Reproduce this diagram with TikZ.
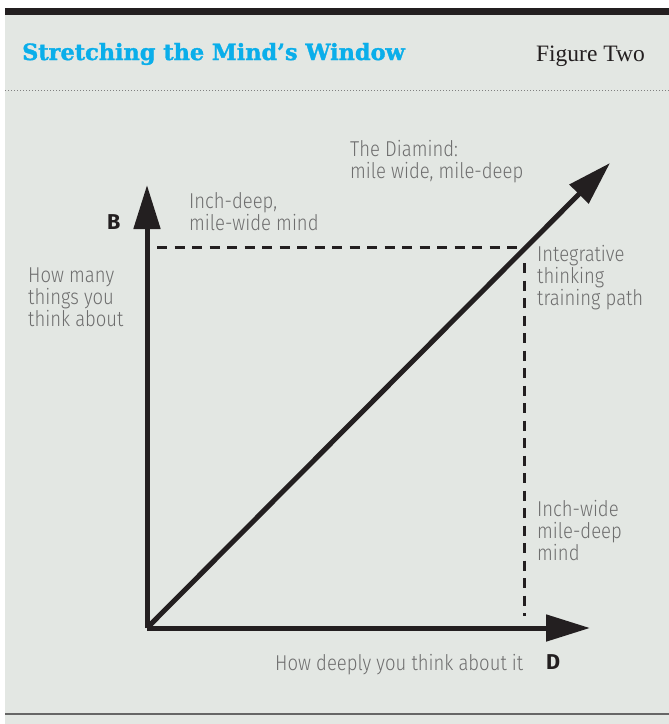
\documentclass[tikz,border=0pt]{standalone}
\usepackage{fontspec}
\setmainfont{Liberation Serif}
\newfontfamily\lblfont{Fira Sans Light}[FakeStretch=0.86]
\newfontfamily\axfont{Fira Sans}[UprightFont=* Bold]
\newfontfamily\ttlfont{DejaVu Serif}[UprightFont=* Bold, FakeBold=1.5]
\usetikzlibrary{arrows.meta, positioning}
\definecolor{cbg}{HTML}{E3E7E3}
\definecolor{cblue}{HTML}{0AAEEA}
\definecolor{cgrey}{HTML}{6E6E6E}
\definecolor{cink}{HTML}{231F20}
\tikzset{
  every picture/.style={x=1pt, y=-1pt},
  axis/.style={draw=cink, line width=5pt, -{Triangle[length=44pt, width=26pt]}},
  guide/.style={draw=cink, line width=3pt, dash pattern=on 10pt off 7.5pt},
  lbl/.style={font=\lblfont\fontsize{21.5}{22}\selectfont, text=cgrey, align=left, inner sep=0pt, anchor=base west},
  axlbl/.style={font=\axfont\fontsize{21.5}{22}\selectfont, text=cink, inner sep=0pt, anchor=base west},
}
\begin{document}
\begin{tikzpicture}
  \useasboundingbox (0,0) rectangle (669,724);
  \fill[white] (0,0) rectangle (669,724);
  \fill[cbg] (5,8) rectangle (669,724);
  \fill[cink] (5,8) rectangle (669,15);
  \draw[gray, line width=1pt, dotted] (5,90) -- (669,90);
  \draw[gray!80!black, line width=2pt] (5,714) -- (669,714);
  % header
  \node[font=\ttlfont\fontsize{22.4}{24}\selectfont, text=cblue, inner sep=0pt, anchor=base west] (title) at (22,60) {Stretching the Mind’s Window};
  \node[font=\fontsize{23.5}{24}\selectfont, text=cink, inner sep=0pt, anchor=base east] (fig) at (645,61) {Figure Two};
  % axes
  \coordinate (O) at (147,628);
  \coordinate (Btip) at (147,185);
  \coordinate (Dtip) at (590,628);
  \coordinate (Ptip) at (610,163);
  \coordinate (hl) at (157,247);
  \coordinate (hr) at (526,247);
  \coordinate (vt) at (524,263);
  \coordinate (vb) at (524,616);
  \draw[guide] (hl) -- (hr);
  \draw[guide] (vt) -- (vb);
  \draw[axis] (O) -- (Btip);
  \draw[axis] (O) -- (Dtip);
  \draw[axis] (O) -- (Ptip);
  % labels (anchored on the last line's baseline)
  \node[axlbl] (B) at (107,229) {B};
  \node[axlbl] (D) at (546,669) {D};
  \node[lbl] (wide) at (189,230) {Inch-deep,\\mile-wide mind};
  \node[lbl] (many) at (28,326) {How many\\things you\\think about};
  \node[lbl] (diamind) at (350,178) {The Diamind:\\mile wide, mile-deep};
  \node[lbl] (path) at (537,305) {Integrative\\thinking\\training path};
  \node[lbl] (deep) at (537,560) {Inch-wide\\mile-deep\\mind};
  \node[lbl] (deeply) at (275,670) {How deeply you think about it};
\end{tikzpicture}
\end{document}
